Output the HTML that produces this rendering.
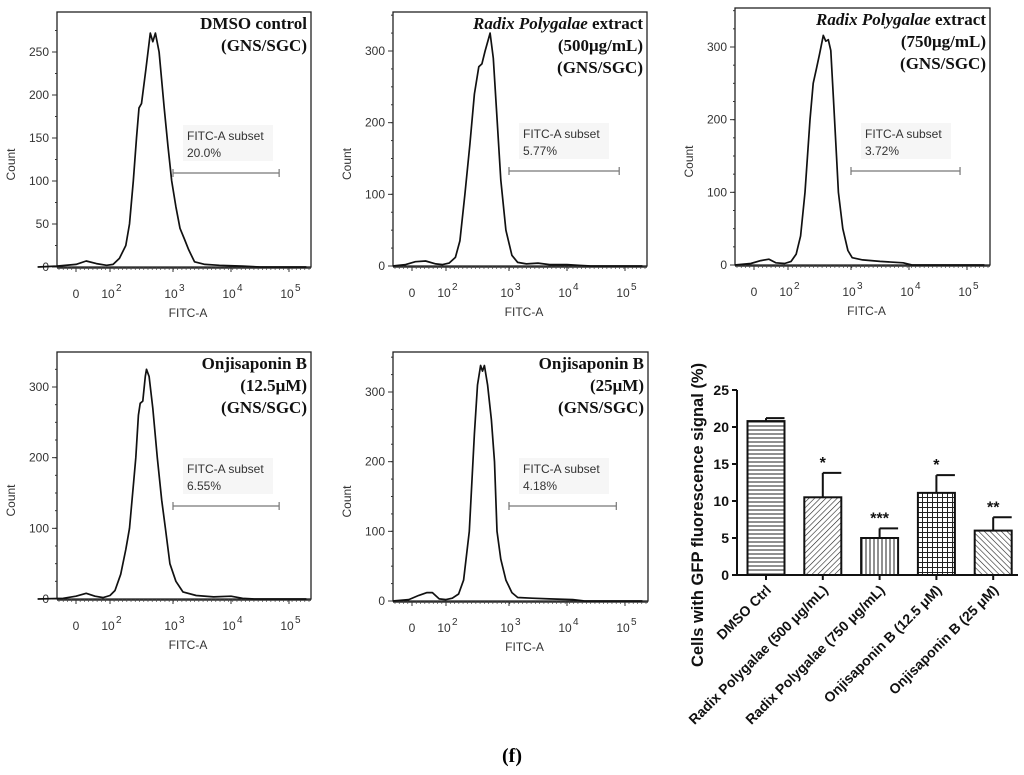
<!DOCTYPE html>
<html><head><meta charset="utf-8">
<style>
html,body{margin:0;padding:0;background:#fff;}
svg{display:block;}
.tk{font-family:"Liberation Sans",Arial,sans-serif;font-size:12px;fill:#333;}
.ttl{font-family:"Liberation Serif",serif;font-size:17px;font-weight:bold;fill:#111;}
.bt{font-family:"Liberation Sans",Arial,sans-serif;font-weight:bold;fill:#111;}
</style></head>
<body>
<svg id="fig" width="1024" height="775" viewBox="0 0 1024 775" xmlns="http://www.w3.org/2000/svg">
<defs>
<pattern id="pH" width="6" height="4" patternUnits="userSpaceOnUse"><line x1="0" y1="2" x2="6" y2="2" stroke="#222" stroke-width="1"/></pattern>
<pattern id="pD1" width="4" height="4" patternUnits="userSpaceOnUse" patternTransform="rotate(45)"><line x1="0" y1="0" x2="0" y2="4" stroke="#222" stroke-width="1.2"/></pattern>
<pattern id="pV" width="4" height="6" patternUnits="userSpaceOnUse"><line x1="2" y1="0" x2="2" y2="6" stroke="#222" stroke-width="1"/></pattern>
<pattern id="pG" width="5" height="5" patternUnits="userSpaceOnUse"><path d="M2.5 0V5M0 2.5H5" stroke="#222" stroke-width="1"/></pattern>
<pattern id="pD2" width="4" height="4" patternUnits="userSpaceOnUse" patternTransform="rotate(-45)"><line x1="0" y1="0" x2="0" y2="4" stroke="#222" stroke-width="1.2"/></pattern>
</defs>
<text x="512" y="762" text-anchor="middle" style="font-family:'Liberation Serif',serif;font-size:20px;font-weight:bold">(f)</text>
</svg>
<script>
// ---- Histogram data (x in log10 FITC-A units, y in counts) ----
const xTickVals = [1.5, 2, 3, 4, 5];
const xTickLabels = ["0", "10", "10", "10", "10"];
const xTickExp = ["", "2", "3", "4", "5"];
const xTickOffsets = [19, 53, 116, 174, 232]; // axis geometry (pixel offsets from frame left)
const h1x = [0.9,1.2,1.5,1.65,1.8,1.95,2.05,2.15,2.25,2.31,2.37,2.42,2.46,2.5,2.57,2.64,2.68,2.72,2.78,2.86,2.92,2.98,3.05,3.12,3.2,3.27,3.37,3.55,3.8,4.2,4.5,5.3];
const h1y = [0,1,3,7,4,2,3,10,25,50,100,150,185,190,230,272,262,272,250,185,140,100,70,45,32,20,6,3,2,1,0,0];
const h2x = [1.2,1.4,1.55,1.7,1.85,1.95,2.05,2.15,2.22,2.3,2.38,2.45,2.52,2.57,2.62,2.7,2.75,2.8,2.87,2.95,3.05,3.15,3.3,3.5,3.7,4.0,4.2,4.4,5.3];
const h2y = [0,2,6,7,3,2,4,12,35,100,170,240,278,282,300,325,290,220,120,50,15,5,3,4,2,2,1,0,0];
const h3x = [1.2,1.45,1.6,1.72,1.82,1.95,2.05,2.13,2.2,2.27,2.35,2.4,2.45,2.5,2.56,2.6,2.64,2.68,2.72,2.77,2.8,2.87,2.95,3.02,3.2,3.5,3.9,4.05,5.3];
const h3y = [0,2,6,8,3,2,5,15,40,100,200,250,270,290,316,308,310,295,230,150,100,50,20,10,7,5,3,0,0];
const h4x = [0.9,1.3,1.5,1.65,1.78,1.9,2.0,2.08,2.17,2.25,2.31,2.37,2.41,2.45,2.48,2.52,2.56,2.58,2.62,2.68,2.75,2.82,2.88,2.95,3.05,3.17,3.4,3.7,4.0,4.2,4.4,5.3];
const h4y = [0,1,4,8,4,2,5,12,35,70,100,160,200,260,277,280,315,325,315,270,200,140,100,50,25,10,5,3,4,1,0,0];
const h5x = [1.2,1.45,1.6,1.72,1.8,1.9,2.0,2.1,2.2,2.28,2.37,2.45,2.5,2.55,2.58,2.61,2.66,2.72,2.77,2.81,2.87,2.95,3.05,3.15,3.4,3.7,4.1,4.3,5.3];
const h5y = [0,2,8,12,12,3,2,4,10,30,100,240,310,338,330,338,310,260,200,100,60,30,12,5,4,3,2,0,0];
// ---- Bar chart data ----
const barCats = ["DMSO Ctrl","Radix Polygalae (500  μg/mL)","Radix Polygalae (750 μg/mL)","Onjisaponin B (12.5 μM)","Onjisaponin B (25 μM)"];
const barVals = [20.8, 10.5, 5.0, 11.1, 6.0];
const barErrs = [0.4, 3.3, 1.3, 2.4, 1.8];
const barStars = ["", "*", "***", "*", "**"];
const yBarTicks = [0, 5, 10, 15, 20, 25];

const NS = "http://www.w3.org/2000/svg";
const svg = document.getElementById("fig");
function mk(tag, attrs, parent, text){
  const e = document.createElementNS(NS, tag);
  for (const k in attrs) e.setAttribute(k, attrs[k]);
  if (text !== undefined) e.textContent = text;
  (parent || svg).appendChild(e);
  return e;
}
function xMap(left, v){
  if (v <= xTickVals[0]) return left + xTickOffsets[0] + (v - xTickVals[0]) * 64;
  for (let i = 0; i < xTickVals.length - 1; i++){
    if (v <= xTickVals[i+1]){
      const t = (v - xTickVals[i]) / (xTickVals[i+1] - xTickVals[i]);
      return left + xTickOffsets[i] + t * (xTickOffsets[i+1] - xTickOffsets[i]);
    }
  }
  return left + xTickOffsets[4] + (v - 5) * 58;
}

const panels = [
  {name:"dmso", L:57, T:12, R:311, B:267, yTop:250, yTopPx:52, yTicks:[0,50,100,150,200,250], xs:h1x, ys:h1y, gate:[3.0,4.83,173], pct:"20.0%", title:[["DMSO control"],["(GNS/SGC)"]]},
  {name:"radix-500", L:393, T:12, R:647, B:266, yTop:300, yTopPx:51, yTicks:[0,100,200,300], xs:h2x, ys:h2y, gate:[3.0,4.9,171], pct:"5.77%", title:[["Radix Polygalae","extract"],["(500μg/mL)"],["(GNS/SGC)"]]},
  {name:"radix-750", L:735, T:8, R:990, B:265, yTop:300, yTopPx:47, yTicks:[0,100,200,300], xs:h3x, ys:h3y, gate:[3.0,4.88,171], pct:"3.72%", title:[["Radix Polygalae","extract"],["(750μg/mL)"],["(GNS/SGC)"]]},
  {name:"onji-12-5", L:57, T:352, R:311, B:599, yTop:300, yTopPx:387, yTicks:[0,100,200,300], xs:h4x, ys:h4y, gate:[3.0,4.83,506], pct:"6.55%", title:[["Onjisaponin B"],["(12.5μM)"],["(GNS/SGC)"]]},
  {name:"onji-25", L:393, T:352, R:648, B:601, yTop:300, yTopPx:392, yTicks:[0,100,200,300], xs:h5x, ys:h5y, gate:[3.0,4.85,506], pct:"4.18%", title:[["Onjisaponin B"],["(25μM)"],["(GNS/SGC)"]]}
];

panels.forEach(p => {
  const g = mk("g", {});
  
  
  const yMap = c => p.B - c * (p.B - p.yTopPx) / p.yTop;
  const fr = mk("rect", {x:p.L, y:p.T, width:p.R-p.L, height:p.B-p.T, fill:"none", stroke:"#222", "stroke-width":1.3}, g);
  
  
  p.yTicks.forEach(t => {
    const y = yMap(t);
    mk("line", {x1:p.L-5, y1:y, x2:p.L, y2:y, stroke:"#333"}, g);
    const tl = mk("text", {x:p.L-8, y:y+4, "text-anchor":"end", class:"tk"}, g, String(t));
    
    
  });
  for (let c = 0; c <= p.yTop + 60; c += 25) {
    const y = yMap(c); if (y < p.T + 2) break;
    mk("line", {x1:p.L-2, y1:y, x2:p.L, y2:y, stroke:"#333"}, g);
  }
  const yt = mk("text", {x:0, y:0, "text-anchor":"middle", class:"tk", transform:`translate(${p.L-42},${(p.T+p.B)/2+25}) rotate(-90)`}, g, "Count");
  
  
  mk("line", {x1:p.L, y1:p.B+1, x2:p.R, y2:p.B+1, stroke:"#333", "stroke-width":1.5}, g);
  for (let i = 0; i < 60; i++){
    const x = p.L + 2 + i * (p.R - p.L - 4) / 59;
    mk("line", {x1:x, y1:p.B, x2:x, y2:p.B+3, stroke:"#444", "stroke-width":0.7}, g);
  }
  xTickVals.forEach((v, i) => {
    const x = xMap(p.L, v);
    mk("line", {x1:x, y1:p.B, x2:x, y2:p.B+5, stroke:"#333"}, g);
    const t = mk("text", {x:x - (i?2:0), y:p.B+31, "text-anchor":"middle", class:"tk"}, g, xTickLabels[i]);
    
    
    if (xTickExp[i]) mk("text", {x:x+6, y:p.B+24, class:"tk", style:"font-size:10px"}, g, xTickExp[i]);
  });
  const xt = mk("text", {x:(p.L+p.R)/2 + 4, y:p.B+50, "text-anchor":"middle", class:"tk"}, g, "FITC-A");
  
  
  let d = "";
  p.xs.forEach((v, i) => { d += (i ? "L" : "M") + xMap(p.L, v).toFixed(1) + " " + yMap(p.ys[i]).toFixed(1); });
  const cv = mk("path", {d:d, fill:"none", stroke:"#111", "stroke-width":1.7, "stroke-linejoin":"round"}, g);
  
  
  const gx1 = xMap(p.L, p.gate[0]), gx2 = xMap(p.L, p.gate[1]), gy = p.gate[2];
  mk("rect", {x:gx1+10, y:gy-48, width:90, height:36, fill:"#f6f6f6"}, g);
  const gate = mk("path", {d:`M${gx1} ${gy}H${gx2}M${gx1} ${gy-4}V${gy+4}M${gx2} ${gy-4}V${gy+4}`, stroke:"#777", "stroke-width":1.2, fill:"none"}, g);
  
  
  const gl = mk("text", {x:gx1+14, y:gy-33, class:"tk", style:"font-size:12px"}, g, "FITC-A subset");
  
  
  const gp = mk("text", {x:gx1+14, y:gy-16, class:"tk", style:"font-size:12px"}, g, p.pct);
  
  
  p.title.forEach((ln, i) => {
    const t = mk("text", {x:p.R-4, y:p.T+17+i*22, "text-anchor":"end", class:"ttl"}, g);
    
    
    if (ln.length === 2){
      mk("tspan", {style:"font-style:italic"}, t, ln[0]);
      mk("tspan", {}, t, " " + ln[1]);
    } else t.textContent = ln[0];
  });
});

// ---- Bar chart ----
const bc = mk("g", {});


const bx0 = 737, by0 = 575, byTop = 390;
const yB = v => by0 - v * (by0 - byTop) / 25;
const xB = i => 766 + i * 56.8;
const pats = ["url(#pH)", "url(#pD1)", "url(#pV)", "url(#pG)", "url(#pD2)"];
mk("line", {x1:bx0, y1:byTop, x2:bx0, y2:by0, stroke:"#111", "stroke-width":2}, bc);
mk("line", {x1:bx0, y1:by0, x2:1018, y2:by0, stroke:"#111", "stroke-width":2}, bc);
yBarTicks.forEach(t => {
  mk("line", {x1:bx0-5, y1:yB(t), x2:bx0, y2:yB(t), stroke:"#111", "stroke-width":2}, bc);
  const tl = mk("text", {x:bx0-8, y:yB(t)+5, "text-anchor":"end", class:"bt", style:"font-size:14px"}, bc, String(t));
  
  
});
const ytl = mk("text", {x:0, y:0, "text-anchor":"middle", class:"bt", style:"font-size:16.5px", transform:"translate(703,515) rotate(-90)"}, bc, "Cells with GFP fluorescence signal (%)");


barVals.forEach((v, i) => {
  const cx = xB(i), w = 37;
  const eb = mk("path", {d:`M${cx} ${yB(v)}V${yB(v+barErrs[i])}M${cx} ${yB(v+barErrs[i])}H${cx+w/2}`, stroke:"#111", "stroke-width":2, fill:"none"}, bc);
  
  
  const r = mk("rect", {x:cx-w/2, y:yB(v), width:w, height:by0-yB(v), fill:pats[i], stroke:"#111", "stroke-width":2}, bc);
  
  
  mk("line", {x1:cx, y1:by0, x2:cx, y2:by0+5, stroke:"#111", "stroke-width":2}, bc);
  if (barStars[i]){
    const s = mk("text", {x:cx, y:yB(v+barErrs[i])-5, "text-anchor":"middle", class:"bt", style:"font-size:16px"}, bc, barStars[i]);
    
    
  }
  const cl = mk("text", {x:0, y:0, "text-anchor":"end", class:"bt", style:"font-size:14px", transform:`translate(${cx+6},${by0+16}) rotate(-45)`}, bc, barCats[i]);
  
  
});
</script>
</body></html>
